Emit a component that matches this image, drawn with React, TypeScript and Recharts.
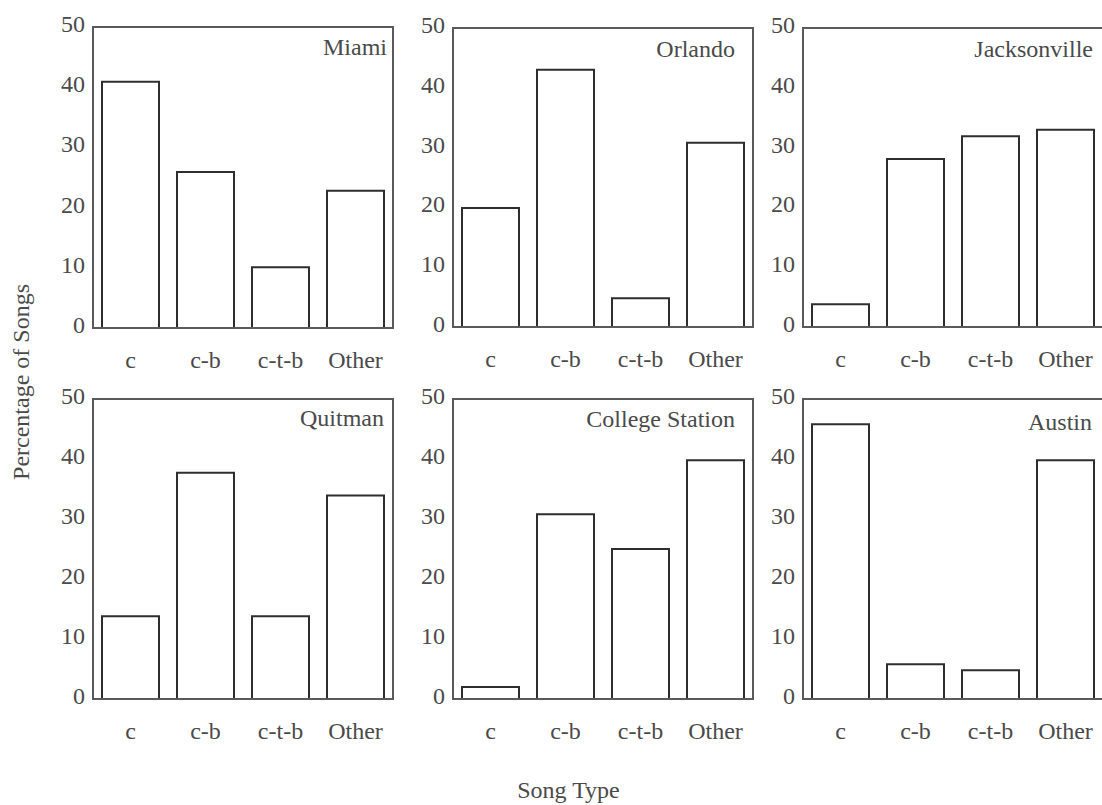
import React from 'react';
import { BarChart, Bar, XAxis, YAxis, ReferenceArea } from 'recharts';

const songTypes = ['c', 'c-b', 'c-t-b', 'Other'];
const yTicks = [0, 10, 20, 30, 40, 50];

const miami = [40.9, 25.9, 10.1, 22.8];
const orlando = [19.9, 43.0, 4.8, 30.8];
const jacksonville = [3.8, 28.1, 31.9, 33.0];
const quitman = [13.8, 37.7, 13.8, 33.9];
const collegeStation = [2.0, 30.8, 25.0, 39.8];
const austin = [45.8, 5.8, 4.8, 39.8];

const cityNames = ['Miami', 'Orlando', 'Jacksonville', 'Quitman', 'College Station', 'Austin'];
const cityValues = [miami, orlando, jacksonville, quitman, collegeStation, austin];

// layout (positions in px)
const layout = [
  { left: 93, top: 27, h: 301, titleRight: 387, titleDy: 28 },
  { left: 453, top: 28, h: 299, titleRight: 735, titleDy: 29 },
  { left: 803, top: 28, h: 299, titleRight: 1093, titleDy: 29 },
  { left: 93, top: 399, h: 300, titleRight: 384, titleDy: 27 },
  { left: 453, top: 399, h: 300, titleRight: 735, titleDy: 28 },
  { left: 803, top: 399, h: 300, titleRight: 1092, titleDy: 31 },
];

const FONT = "'Liberation Serif', 'Times New Roman', serif";
const TEXT = '#4a4a4a';
const FRAME = '#5a5a5a';
const BARSTROKE = '#2e2e2e';
const PLOT_W = 300;
const ML = 60;
const MT = 24;
const MR = 10;
const XH = 50;

const YTick = (props: any) => {
  const { x, y, payload } = props;
  return (
    <text x={x} y={y + 5} textAnchor="end" fontFamily={FONT} fontSize={24} fill={TEXT}>
      {payload.value}
    </text>
  );
};

const XTick = (props: any) => {
  const { x, y, payload } = props;
  return (
    <text x={x} y={y + 32} textAnchor="middle" fontFamily={FONT} fontSize={24} fill={TEXT}>
      {payload.value}
    </text>
  );
};

function Panel({ idx }: { idx: number }) {
  const lay = layout[idx];
  const vals = cityValues[idx];
  const data = songTypes.map((t, i) => ({ type: t, value: vals[i] }));
  const w = ML + PLOT_W + MR;
  const h = MT + lay.h + XH;
  return (
    <div style={{ position: 'absolute', left: lay.left - ML, top: lay.top - MT, width: w, height: h }}>
      <BarChart
        width={w}
        height={h}
        data={data}
        margin={{ top: MT, right: MR, bottom: 0, left: 0 }}
        barSize={57}
      >
        <XAxis
          dataKey="type"
          height={XH}
          axisLine={{ stroke: FRAME, strokeWidth: 2 }}
          tickLine={false}
          tick={<XTick />}
          interval={0}
        />
        <YAxis
          width={ML}
          domain={[0, 50]}
          ticks={yTicks}
          axisLine={{ stroke: FRAME, strokeWidth: 2 }}
          tickLine={false}
          tick={<YTick />}
          interval={0}
        />
        <ReferenceArea
          x1={songTypes[0]}
          x2={songTypes[songTypes.length - 1]}
          y1={0}
          y2={50}
          fill="none"
          fillOpacity={0}
          stroke={FRAME}
          strokeWidth={2}
          strokeOpacity={1}
          ifOverflow="visible"
        />
        <Bar dataKey="value" fill="#ffffff" stroke={BARSTROKE} strokeWidth={2} isAnimationActive={false} />
      </BarChart>
    </div>
  );
}

export default function App() {
  return (
    <div
      style={{
        position: 'absolute',
        left: 0,
        top: 0,
        width: 1102,
        height: 805,
        overflow: 'hidden',
        background: '#ffffff',
      }}
    >
      {cityNames.map((_, i) => (
        <Panel key={i} idx={i} />
      ))}
      <svg
        width={1102}
        height={805}
        style={{ position: 'absolute', left: 0, top: 0, pointerEvents: 'none' }}
      >
        {cityNames.map((name, i) => (
          <text
            key={name}
            x={layout[i].titleRight}
            y={layout[i].top + layout[i].titleDy}
            textAnchor="end"
            fontFamily={FONT}
            fontSize={24}
            fill={TEXT}
          >
            {name}
          </text>
        ))}
        <text
          x={29}
          y={382}
          transform="rotate(-90 29 382)"
          textAnchor="middle"
          fontFamily={FONT}
          fontSize={24}
          fill={TEXT}
        >
          Percentage of Songs
        </text>
        <text x={568.5} y={798} textAnchor="middle" fontFamily={FONT} fontSize={24} fill={TEXT}>
          Song Type
        </text>
      </svg>
    </div>
  );
}
